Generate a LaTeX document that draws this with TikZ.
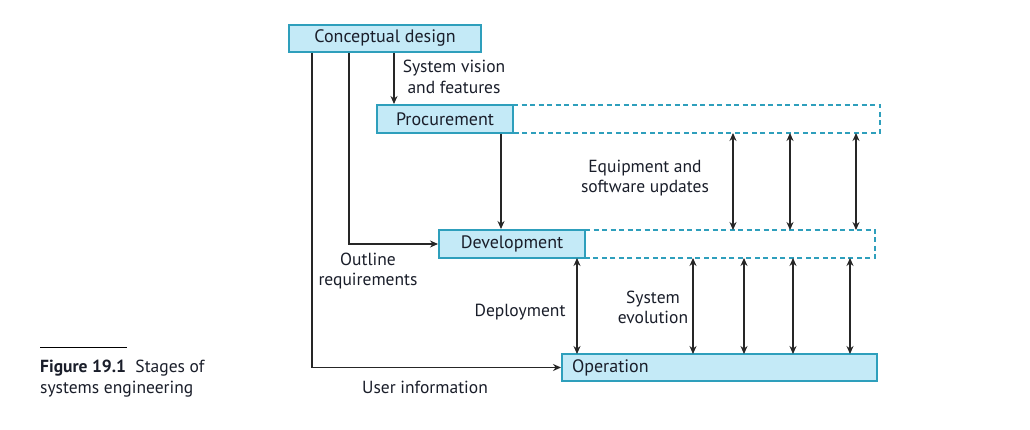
\documentclass[tikz,border=0pt]{standalone}
\usepackage{fontspec}
\setmainfont{PT Sans}
\usetikzlibrary{arrows.meta}
\definecolor{boxfill}{HTML}{C4EAF7}
\definecolor{boxline}{HTML}{2E9FBC}
\definecolor{txt}{HTML}{1A1E2A}
\definecolor{conn}{HTML}{262626}
\tikzset{
  stagebox/.style={draw=boxline, line width=2pt, fill=boxfill, inner sep=0pt, font=\fontsize{18}{20}\selectfont, text=txt},
  dashext/.style={draw=boxline, line width=2pt, dash pattern=on 5pt off 3.5pt},
  conn/.style={draw=conn, line width=1.1pt, -{Stealth[length=8pt,width=7pt]}},
  biconn/.style={draw=conn, line width=1.1pt, {Stealth[length=8pt,width=7pt]}-{Stealth[length=8pt,width=7pt]}},
  lbl/.style={font=\fontsize{17.5}{20.5}\selectfont, text=txt, align=center, inner sep=0pt},
}
\begin{document}
\begin{tikzpicture}[x=1pt,y=-1pt]
\useasboundingbox[fill=white] (0,0) rectangle (1030,430);
% dashed extensions
\draw[dashext] (513,105) -- (880,105) -- (880,133) -- (513,133);
\draw[dashext] (585,230) -- (875,230) -- (875,258) -- (585,258);
% boxes
\node[stagebox, minimum width=192pt, minimum height=27pt] (cd) at (385,38.5) {Conceptual design};
\node[stagebox, minimum width=136pt, minimum height=28pt] (pr) at (445,119) {Procurement};
\node[stagebox, minimum width=146pt, minimum height=28pt] (dv) at (512,244) {Development};
\node[stagebox, minimum width=315pt, minimum height=27pt, text width=295pt, align=left] (op) at (719.5,367.5) {Operation};
% coordinates on dashed extensions
\coordinate (pb1) at (733,133); \coordinate (pb2) at (790,133); \coordinate (pb3) at (856,133);
\coordinate (dt1) at (733,230); \coordinate (dt2) at (790,230); \coordinate (dt3) at (856,230);
\coordinate (db1) at (577,258); \coordinate (db2) at (693,258); \coordinate (db3) at (744,258); \coordinate (db4) at (793,258); \coordinate (db5) at (850,258);
\coordinate (ot1) at (577,354); \coordinate (ot2) at (693,354); \coordinate (ot3) at (744,354); \coordinate (ot4) at (793,354); \coordinate (ot5) at (850,354);
% connectors
\draw[conn] (cd.south -| 394,0) -- (pr.north -| 394,0);
\draw[conn] (pr.south -| 501,0) -- (dv.north -| 501,0);
\draw[conn] (cd.south -| 349,0) |- (dv.west);
\draw[conn] (cd.south -| 312,0) |- (op.west);
\foreach \i in {1,2,3} \draw[biconn] (pb\i) -- (dt\i);
\foreach \i in {1,...,5} \draw[biconn] (db\i) -- (ot\i);
% labels
\node[lbl] (l1) at (454,77) {System vision\\and features};
\node[lbl] (l2) at (645,178) {Equipment and\\software updates};
\node[lbl] (l3) at (368,271) {Outline\\requirements};
\node[lbl] (l4) at (520,312) {Deployment};
\node[lbl] (l5) at (653,307.5) {System\\evolution};
\node[lbl] (l6) at (425,387) {User information};
% caption
\draw[line width=0.8pt] (40,347) -- (127,347);
\node[lbl, anchor=north west, align=left] (cap) at (40,360) {\textbf{Figure 19.1}\ \ Stages of\\systems engineering};
\end{tikzpicture}
\end{document}
